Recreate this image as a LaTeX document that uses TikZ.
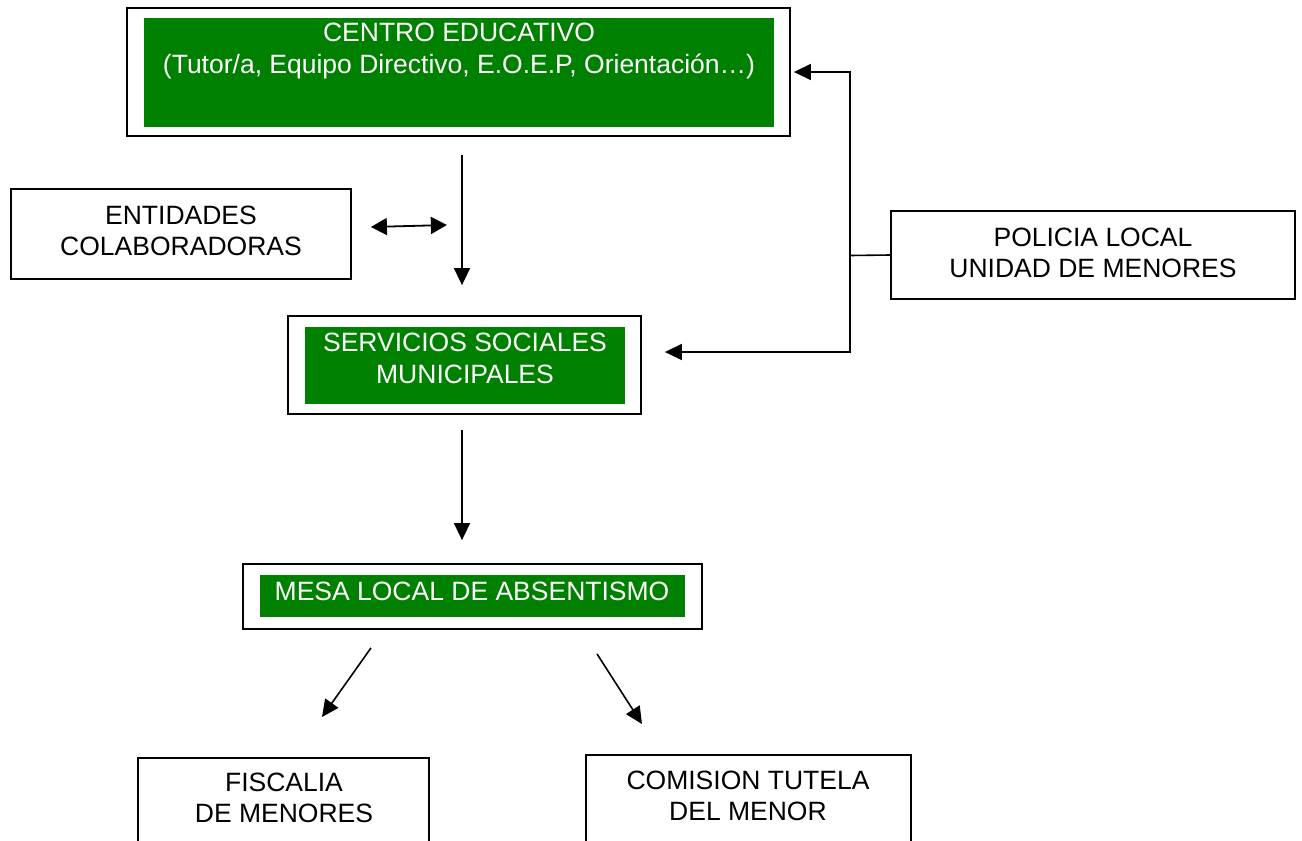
\documentclass[tikz,border=0pt]{standalone}
\usepackage{fontspec}
\setmainfont{Liberation Sans}
\usetikzlibrary{arrows.meta}
\definecolor{boxgreen}{RGB}{0,128,0}
\tikzset{
  outerbox/.style={draw=black, line width=1.8pt, fill=white, inner sep=0pt},
  greenbox/.style={fill=boxgreen, draw=none, inner sep=0pt},
  wtext/.style={text=white, align=center, font=\fontsize{26.5}{32}\selectfont, inner sep=0pt},
  btext/.style={text=black, align=center, font=\fontsize{26.5}{31}\selectfont, inner sep=0pt},
  arr/.style={line width=1.6pt, -{Triangle[length=17pt,width=16pt]}},
  arrtwo/.style={line width=1.8pt, {Triangle[length=16pt,width=17pt]}-{Triangle[length=16pt,width=17pt]}},
  plain/.style={line width=1.6pt}
}
\begin{document}
\begin{tikzpicture}[x=1pt,y=-1pt]
\clip (0,0) rectangle (1302,841);
\fill[white] (0,0) rectangle (1302,841);

% CENTRO EDUCATIVO
\node[outerbox, minimum width=663pt, minimum height=128pt] (top) at (458.5,72) {};
\node[greenbox, minimum width=630pt, minimum height=109pt] (topg) at (459,72.5) {};
\node[wtext] (toptext) at (459,51) {CENTRO EDUCATIVO\\(Tutor/a, Equipo Directivo, E.O.E.P, Orientación…)};

% ENTIDADES
\node[outerbox, minimum width=340pt, minimum height=90pt] (ent) at (181,234) {};
\node[btext] (enttext) at (181,231) {ENTIDADES\\COLABORADORAS};

% POLICIA
\node[outerbox, minimum width=404pt, minimum height=88pt] (pol) at (1093,255) {};
\node[btext] (poltext) at (1093,253) {POLICIA LOCAL\\UNIDAD DE MENORES};

% SERVICIOS SOCIALES
\node[outerbox, minimum width=353pt, minimum height=98pt] (ss) at (464.5,365) {};
\node[greenbox, minimum width=320pt, minimum height=77pt] (ssg) at (465,365.5) {};
\node[wtext] (sstext) at (465,358) {SERVICIOS SOCIALES\\MUNICIPALES};

% MESA LOCAL
\node[outerbox, minimum width=459pt, minimum height=65pt] (mesa) at (472.5,596.5) {};
\node[greenbox, minimum width=425pt, minimum height=42pt] (mesag) at (472.5,596) {};
\node[wtext] (mesatext) at (472,591) {MESA LOCAL DE ABSENTISMO};

% FISCALIA
\node[outerbox, anchor=north, minimum width=291pt, minimum height=160pt] (fis) at (283.5,757) {};
\node[btext] (fistext) at (284,798) {FISCALIA\\DE MENORES};

% COMISION
\node[outerbox, anchor=north, minimum width=325pt, minimum height=160pt] (com) at (748.5,754) {};
\node[btext] (comtext) at (748,795.5) {COMISION TUTELA\\DEL MENOR};

% connectors
\draw[arr] ([xshift=3.5pt,yshift=-18pt]top.south) -- ([xshift=-2.5pt,yshift=30pt]ss.north);
\draw[arrtwo] ([xshift=19pt,yshift=7pt]ent.east) -- ++(76,-2);
\coordinate (j) at (850,255.5);
\draw[plain] (pol.west) -- (j);
\draw[arr] ([yshift=-1pt]j) |- ([xshift=3pt]top.east);
\draw[arr] ([yshift=1pt]j) |- ([xshift=23pt,yshift=13pt]ss.east);
\draw[arr] ([xshift=-2.5pt,yshift=-15pt]ss.south) -- ([xshift=-10.5pt,yshift=23pt]mesa.north);
\draw[arr] ([xshift=-101.5pt,yshift=-18pt]mesa.south) -- ([xshift=38.5pt,yshift=40pt]fis.north);
\draw[arr] ([xshift=124.5pt,yshift=-24pt]mesa.south) -- ([xshift=-106.5pt,yshift=30pt]com.north);
\end{tikzpicture}
\end{document}
